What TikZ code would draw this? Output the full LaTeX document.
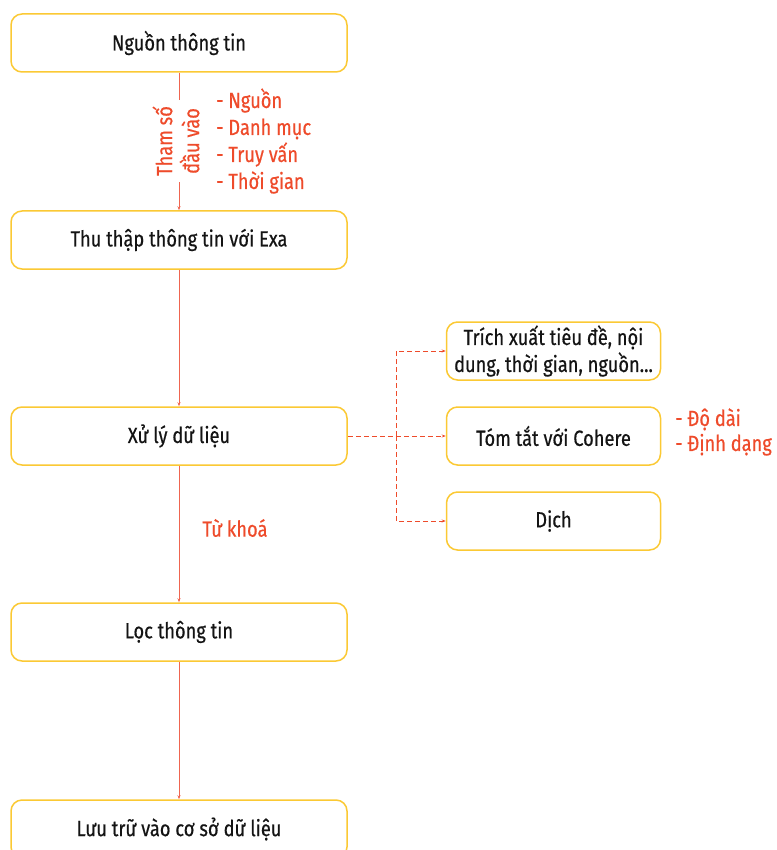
\documentclass[tikz,border=0pt]{standalone}
\usepackage{fontspec}
\setmainfont[FakeStretch=0.83,FakeBold=0.5]{Fira Sans}
\usetikzlibrary{arrows.meta}
\definecolor{boxborder}{HTML}{FBC934}
\definecolor{redtext}{HTML}{EE4B2B}
\definecolor{linered}{HTML}{EF6550}
\begin{document}
\begin{tikzpicture}[x=1pt,y=-1pt,
  box/.style={draw=boxborder,line width=1.5pt,rounded corners=11pt,fill=white,
    minimum width=336pt,minimum height=58pt,inner sep=0pt,font=\fontsize{22}{27}\selectfont,text=black!92},
  sbox/.style={box,minimum width=214pt,align=center},
  conn/.style={draw=linered,line width=0.9pt,-{Stealth[length=4pt,width=3pt]}},
  dconn/.style={conn,draw=redtext,dashed,dash pattern=on 5pt off 3pt},
  rlabel/.style={text=redtext,font=\fontsize{22}{27}\selectfont,inner sep=0pt}]
\useasboundingbox (0,0) rectangle (776,850);
\begin{scope}
\clip (0,0) rectangle (776,850);
\node[box] (n1) at (179,43) {Nguồn thông tin};
\node[box] (n2) at (179,240) {Thu thập thông tin với Exa};
\node[box] (n3) at (179,436) {Xử lý dữ liệu};
\node[box] (n4) at (179,632) {Lọc thông tin};
\node[box] (n5) at (179,829) {Lưu trữ vào cơ sở dữ liệu};
\node[sbox] (a) at (553.5,351) {Trích xuất tiêu đề, nội\\dung, thời gian, nguồn...};
\node[sbox] (b) at (553.5,436) {Tóm tắt với Cohere};
\node[sbox] (c) at (553.5,521) {Dịch};

\draw[conn] (n1) -- (n2);
\draw[conn] (n2) -- (n3);
\draw[conn] (n3) -- (n4);
\draw[conn] (n4) -- (n5);

\coordinate (j) at (396,436);
\draw[dconn] (n3.east) -- (b.west);
\draw[dconn] (j) |- (a.west);
\draw[dconn] (j) |- (c.west);

\node[rlabel,rotate=90,fill=white,align=center,inner ysep=3pt,inner xsep=6pt] (lab1) at (176,141) {Tham số\\đầu vào};
\node[rlabel,anchor=west,align=left] (lab2) at (216,141) {- Nguồn\\- Danh mục\\- Truy vấn\\- Thời gian};
\node[rlabel] (lab3) at (235,528) {Từ khoá};
\node[rlabel,anchor=west,align=left,font=\fontsize{22}{25}\selectfont] (lab4) at (675,432) {- Độ dài\\- Định dạng};
\end{scope}
\end{tikzpicture}
\end{document}
